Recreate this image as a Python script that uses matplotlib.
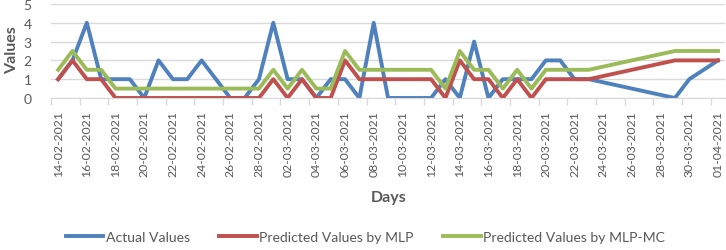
import datetime as dt
import matplotlib
matplotlib.use('Agg')
import matplotlib.pyplot as plt
import matplotlib.dates as mdates

plt.rcParams['font.family'] = ['Lato', 'DejaVu Sans']

# dates with data (no entries between 24-03 and 28-03, nor 31-03)
days = ['14-02-2021', '15-02-2021', '16-02-2021', '17-02-2021', '18-02-2021',
        '19-02-2021', '20-02-2021', '21-02-2021', '22-02-2021', '23-02-2021',
        '24-02-2021', '25-02-2021', '26-02-2021', '27-02-2021', '28-02-2021',
        '01-03-2021', '02-03-2021', '03-03-2021', '04-03-2021', '05-03-2021',
        '06-03-2021', '07-03-2021', '08-03-2021', '09-03-2021', '10-03-2021',
        '11-03-2021', '12-03-2021', '13-03-2021', '14-03-2021', '15-03-2021',
        '16-03-2021', '17-03-2021', '18-03-2021', '19-03-2021', '20-03-2021',
        '21-03-2021', '22-03-2021', '23-03-2021', '29-03-2021', '30-03-2021',
        '01-04-2021']

actual = [1, 2, 4, 1, 1, 1, 0, 2, 1, 1,
          2, 1, 0, 0, 1, 4, 1, 1, 0, 1,
          1, 0, 4, 0, 0, 0, 0, 1, 0, 3,
          0, 1, 1, 1, 2, 2, 1, 1, 0, 1,
          2]
pred_mlp = [1, 2, 1, 1, 0, 0, 0, 0, 0, 0,
            0, 0, 0, 0, 0, 1, 0, 1, 0, 0,
            2, 1, 1, 1, 1, 1, 1, 0, 2, 1,
            1, 0, 1, 0, 1, 1, 1, 1, 2, 2,
            2]
pred_mlp_mc = [1.5, 2.5, 1.5, 1.5, 0.5, 0.5, 0.5, 0.5, 0.5, 0.5,
               0.5, 0.5, 0.5, 0.5, 0.5, 1.5, 0.5, 1.5, 0.5, 0.5,
               2.5, 1.5, 1.5, 1.5, 1.5, 1.5, 1.5, 0.5, 2.5, 1.5,
               1.5, 0.5, 1.5, 0.5, 1.5, 1.5, 1.5, 1.5, 2.5, 2.5,
               2.5]

x = [dt.datetime.strptime(d, '%d-%m-%Y') for d in days]
grey = '#595959'

fig = plt.figure(figsize=(7.26, 2.51), dpi=100)
ax = fig.add_axes([0.0702, 0.6056, 0.9278, 0.3745])

ax.plot(x, actual, color='#4F81BD', lw=2.8, label='Actual Values')
ax.plot(x, pred_mlp, color='#C0504D', lw=2.8, label='Predicted Values by MLP')
ax.plot(x, pred_mlp_mc, color='#9BBB59', lw=2.8, label='Predicted Values by MLP-MC')

half = dt.timedelta(hours=11)
ax.set_xlim(x[0] - half, x[-1] + half)
ax.set_ylim(0, 5)
ax.set_yticks(range(6))

label_days = [x[0] + dt.timedelta(days=2 * k) for k in range(24)]
ax.set_xticks(label_days)
ax.xaxis.set_major_formatter(mdates.DateFormatter('%d-%m-%Y'))
ax.set_xticks([d - dt.timedelta(hours=12) for d in label_days], minor=True)
ax.tick_params(axis='x', which='major', length=0, pad=9, labelrotation=90,
               labelsize=8.8, labelcolor=grey)
ax.tick_params(axis='x', which='minor', length=5, color='#D9D9D9', width=1)
ax.tick_params(axis='y', length=0, pad=14, labelsize=10, labelcolor=grey)

ax.grid(axis='y', color='#D9D9D9', lw=1)
ax.set_axisbelow(True)
for s in ['top', 'right', 'left']:
    ax.spines[s].set_visible(False)
ax.spines['bottom'].set_color('#D9D9D9')

fig.text(0.017, 0.80, 'Values', rotation=90, ha='center', va='center',
         fontsize=11.5, fontweight='bold', color=grey)
fig.text(0.535, 0.21, 'Days', ha='center', va='center',
         fontsize=11.5, fontweight='bold', color=grey)

fig.legend(loc='center', bbox_to_anchor=(0.503, 0.052), ncol=3, frameon=False,
           fontsize=10.1, handlelength=2.7, handletextpad=0.15,
           columnspacing=2.1, labelcolor=grey)

fig.savefig('out.png', dpi=100)
